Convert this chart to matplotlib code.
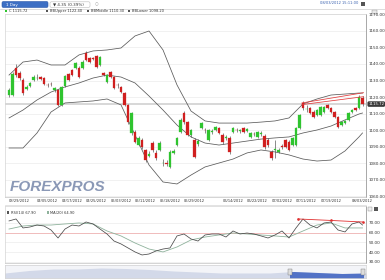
"""
Daily candles with Bollinger bands, RSI panel and range navigator.
"""

import numpy as np
import matplotlib
matplotlib.use('Agg')  # no GUI
import matplotlib.pyplot as plt
from matplotlib.patches import Rectangle, FancyBboxPatch

W, H = 385, 280

# ── price bars (daily OHLC) ──
opens = [1121.2, 1121.2, 1137.6, 1134.5, 1130.3, 1124.8, 1126.7, 1130.3, 1131.5, 1132.1,
         1131.5, 1127.3, 1127.9, 1124.2, 1124.2, 1115.2, 1126.7, 1133.9, 1136.4, 1137.6,
         1137.6, 1137.6, 1146.7, 1143.6, 1143.6, 1144.8, 1139.4, 1134.5, 1129.1, 1135.2,
         1132.1, 1127.3, 1126.1, 1122.4, 1115.2, 1098.2, 1098.8, 1090.9, 1093.9, 1087.9,
         1084.2, 1092.1, 1086.1, 1087.9, 1080.0, 1080.0, 1077.6, 1086.1, 1090.9, 1098.8,
         1110.3, 1104.8, 1097.0, 1093.9, 1091.5, 1101.2, 1100.0, 1093.9, 1098.8, 1100.0,
         1101.2, 1097.0, 1095.2, 1095.2, 1098.8, 1100.0, 1099.4, 1101.2, 1099.4, 1095.8,
         1097.6, 1095.8, 1097.6, 1096.4, 1093.9, 1086.7, 1087.9, 1086.7, 1090.3, 1093.9,
         1092.7, 1090.9, 1090.9, 1101.2, 1116.4, 1112.7, 1113.3, 1110.9, 1109.1, 1109.1,
         1110.9, 1115.2, 1113.3, 1110.9, 1107.9, 1103.0, 1104.2, 1106.1, 1110.9, 1113.3,
         1113.3, 1119.4]
closes = [1124.2, 1133.9, 1133.3, 1131.5, 1122.4, 1126.1, 1128.5, 1132.1, 1131.8, 1130.9,
          1127.9, 1127.0, 1127.6, 1125.5, 1115.2, 1126.1, 1132.7, 1130.3, 1133.3, 1140.6,
          1132.1, 1141.2, 1142.4, 1141.2, 1143.3, 1138.2, 1144.2, 1133.3, 1133.3, 1132.1,
          1125.5, 1127.0, 1123.0, 1115.2, 1104.8, 1110.3, 1092.7, 1095.2, 1089.7, 1081.8,
          1085.5, 1087.9, 1083.0, 1092.1, 1080.3, 1079.7, 1086.7, 1087.3, 1095.2, 1106.1,
          1104.8, 1097.0, 1100.0, 1083.6, 1093.3, 1104.2, 1099.7, 1100.0, 1099.1, 1101.8,
          1098.2, 1092.7, 1095.5, 1086.7, 1101.2, 1099.7, 1099.7, 1098.8, 1100.6, 1098.2,
          1097.3, 1098.8, 1097.9, 1089.7, 1090.9, 1083.0, 1088.2, 1087.9, 1089.7, 1089.7,
          1087.9, 1095.2, 1101.2, 1109.1, 1113.3, 1113.0, 1110.3, 1107.9, 1112.1, 1113.9,
          1113.9, 1113.3, 1110.9, 1107.9, 1101.8, 1104.8, 1105.5, 1110.3, 1112.1, 1112.1,
          1120.07, 1115.72]
highs = [1125.5, 1135.2, 1140.0, 1135.8, 1131.5, 1127.3, 1129.1, 1133.3, 1133.9, 1132.7,
         1132.1, 1128.5, 1129.1, 1126.1, 1124.8, 1126.7, 1133.3, 1134.5, 1137.0, 1141.2,
         1138.8, 1142.4, 1147.9, 1144.2, 1144.2, 1145.5, 1144.8, 1135.2, 1133.9, 1135.8,
         1132.7, 1128.5, 1126.7, 1123.0, 1115.8, 1110.9, 1100.0, 1096.4, 1095.2, 1088.5,
         1087.3, 1093.3, 1087.9, 1093.3, 1082.4, 1081.8, 1087.9, 1088.5, 1095.8, 1107.3,
         1111.5, 1105.5, 1100.6, 1095.2, 1094.5, 1104.8, 1101.2, 1100.6, 1100.6, 1102.4,
         1101.8, 1098.2, 1097.0, 1096.4, 1101.8, 1101.2, 1100.6, 1101.8, 1101.2, 1098.8,
         1098.8, 1099.4, 1099.4, 1097.6, 1095.2, 1087.9, 1093.9, 1089.1, 1091.5, 1094.5,
         1093.9, 1095.8, 1101.8, 1109.7, 1117.6, 1115.2, 1113.9, 1112.1, 1112.7, 1114.5,
         1114.5, 1115.8, 1113.9, 1111.5, 1108.5, 1105.5, 1106.1, 1110.9, 1112.7, 1113.9,
         1121.0, 1120.6]
lows = [1120.0, 1120.6, 1132.1, 1130.3, 1121.2, 1124.2, 1126.1, 1129.7, 1130.3, 1130.3,
        1127.3, 1126.1, 1126.7, 1123.0, 1114.5, 1114.5, 1126.1, 1129.7, 1132.7, 1137.0,
        1131.5, 1137.0, 1141.8, 1140.6, 1142.4, 1137.6, 1138.8, 1132.7, 1128.5, 1131.5,
        1124.8, 1125.5, 1122.4, 1114.5, 1103.6, 1097.0, 1092.1, 1090.3, 1088.5, 1080.6,
        1083.6, 1086.7, 1081.8, 1087.3, 1078.2, 1078.2, 1077.0, 1085.5, 1090.3, 1098.2,
        1103.6, 1096.4, 1095.8, 1083.0, 1090.3, 1100.6, 1098.2, 1093.3, 1097.6, 1099.4,
        1097.6, 1091.5, 1093.9, 1085.5, 1098.2, 1098.8, 1098.2, 1098.2, 1098.8, 1095.2,
        1096.4, 1095.2, 1096.4, 1088.5, 1089.7, 1081.8, 1083.0, 1086.1, 1088.5, 1089.1,
        1087.3, 1090.3, 1090.3, 1100.6, 1112.1, 1110.9, 1109.7, 1107.3, 1108.5, 1108.5,
        1110.3, 1112.7, 1110.3, 1107.3, 1101.2, 1102.4, 1103.6, 1105.5, 1110.3, 1111.5,
        1112.7, 1114.5]

# ── Bollinger bands, read every 4th bar ──
band_idx = [0, 4, 8, 12, 16, 20, 24, 28, 32, 36, 40, 44, 48, 52, 56, 60, 64, 68, 72,
            76, 80, 84, 88, 92, 96, 100, 101]
bb_upper = [1133.3, 1141.2, 1142.4, 1139.4, 1139.4, 1145.5, 1147.9, 1148.5, 1149.7, 1157.0,
            1160.0, 1148.5, 1127.3, 1111.5, 1105.5, 1104.2, 1104.2, 1104.2, 1104.8, 1105.5,
            1107.3, 1115.8, 1118.8, 1121.2, 1121.8, 1122.4, 1122.4]
bb_middle = [1107.3, 1112.1, 1118.2, 1123.0, 1126.1, 1128.5, 1131.5, 1133.3, 1132.1, 1128.5,
             1120.6, 1112.1, 1103.0, 1095.8, 1092.1, 1090.9, 1092.1, 1093.3, 1094.5, 1095.2,
             1095.8, 1098.2, 1100.0, 1102.4, 1106.1, 1109.7, 1110.3]
bb_lower = [1089.1, 1089.1, 1098.2, 1110.9, 1116.4, 1117.0, 1117.6, 1118.8, 1115.2, 1097.0,
            1078.8, 1068.5, 1067.3, 1072.7, 1077.6, 1080.0, 1082.4, 1086.1, 1087.9, 1086.7,
            1084.9, 1082.4, 1081.2, 1081.8, 1087.3, 1095.8, 1098.2]

# red resistance lines drawn on the last bars
trend_idx = [83.7, 101.3]
trend_a = [1116.4, 1122.6]
trend_b = [1115.4, 1120.2]

# ── RSI and its moving average ──
rsi_idx = list(range(0, 101, 2)) + [101]
rsi = [72.1, 74.1, 64.9, 65.9, 67.9, 66.9, 62.8, 54.6, 63.8, 67.9,
       66.9, 71.0, 69.0, 63.8, 58.7, 51.5, 48.5, 44.4, 40.3, 37.2,
       38.2, 41.3, 43.3, 44.4, 56.7, 58.7, 53.6, 51.5, 57.7, 58.7,
       58.7, 55.6, 61.8, 58.7, 59.7, 58.7, 56.7, 54.6, 57.7, 61.8,
       54.6, 64.9, 74.1, 67.9, 64.9, 70.0, 71.0, 62.8, 60.8, 69.0,
       71.0, 67.9]
rsi_ma = [63.8, 66.9, 67.9, 67.9, 69.0, 70.0, 69.0, 61.8, 56.7, 49.5,
          43.3, 40.3, 45.4, 52.6, 55.6, 57.7, 59.7, 58.7, 57.7, 56.7,
          55.6, 61.8, 67.9, 70.0, 64.9, 64.9, 64.9]
rsi_trend_idx = [82.6, 92.0, 101.0]
rsi_trend = [74.1, 72.6, 71.0]

# ── navigator (long history, relative level) ──
nav_vals = [5.0, 7.5, 9.0, 9.0, 10.0, 9.5, 8.5, 7.0, 6.0, 5.0, 5.0, 5.0, 6.5, 5.5, 4.5, 5.0]

date_idx = [3, 11, 18, 25, 32, 39, 46, 53, 64, 71, 78, 85, 92, 101]
date_labels = ["03/29/2012", "04/05/2012", "04/17/2012", "04/25/2012", "05/03/2012",
               "05/11/2012", "05/18/2012", "05/29/2012", "06/14/2012", "06/22/2012",
               "07/02/2012", "07/11/2012", "07/19/2012", "08/03/2012"]
price_ticks = list(range(1060, 1171, 10))
rsi_ticks = [30, 40, 50, 60, 70]

GREEN = "#2fc42f"
RED = "#d01f1f"
TXT = "#333333"


def px_rect(x0, y0, x1, y1):
    """Pixel box (top-left origin) -> figure fraction rect."""
    return [x0 / W, 1 - y1 / H, (x1 - x0) / W, (y1 - y0) / H]


def style_panel(ax):
    for side in ("left", "top"):
        ax.spines[side].set_color("#d5d5d5")
        ax.spines[side].set_linewidth(0.5)
    ax.spines["right"].set_color("#9a9a9a")
    ax.spines["right"].set_linewidth(0.6)
    ax.spines["bottom"].set_color("#c4c4c4")
    ax.spines["bottom"].set_linewidth(0.5)
    ax.yaxis.tick_right()
    ax.tick_params(axis="y", length=0, labelsize=3, labelcolor=TXT, pad=2)


fig = plt.figure(figsize=(W / 100, H / 100), dpi=100)

# background layer for header widgets (pixel coordinates)
bg = fig.add_axes([0, 0, 1, 1])
bg.set_xlim(0, W)
bg.set_ylim(H, 0)
bg.axis("off")
bg.add_patch(FancyBboxPatch((2, 1.5), 46, 6, boxstyle="round,pad=0,rounding_size=1.5",
                            fc="#3d6fc4", ec="#2a58a8", lw=0.4))
bg.text(6, 4.6, "1 Day", color="white", fontsize=3, va="center")
bg.add_patch(FancyBboxPatch((50, 1.8), 40, 5.6, boxstyle="round,pad=0,rounding_size=1.5",
                            fc="white", ec="#bbbbbb", lw=0.4))
bg.text(53, 4.6, "\u25bc 4.35 (0.39%)", color=TXT, fontsize=3, va="center")
bg.text(95, 4.6, "\u25cb", color="#999999", fontsize=3, va="center")
bg.text(358, 3.5, "08/03/2012 15:11:00", color="#3a62b0", fontsize=2.6,
        va="center", ha="right")
bg.add_patch(Rectangle((360.5, 1.5), 4, 4, fc="#555555", ec="none"))
bg.plot([0, W], [8.5, 8.5], color="#cfcfcf", lw=0.5)
bg.add_patch(Rectangle((372, 9.5), 5, 4, fc="#e8e8e8", ec="#888888", lw=0.3))

# legend row of the main chart
items = [(GREEN, f"C {closes[-1]:.2f}"), ("#555555", f"BBUpper {bb_upper[-1]:.2f}"),
         ("#555555", f"BBMiddle {bb_middle[-1]:.2f}"), ("#555555", f"BBLower {bb_lower[-1]:.2f}")]
for k, (col, label) in enumerate(items):
    x0 = 5 + k * 41
    bg.add_patch(Rectangle((x0, 9.8), 2.4, 2.4, fc=col, ec="none"))
    bg.text(x0 + 4, 11.1, label, color=TXT, fontsize=2.6, va="center")

# ── main price chart ──
ax = fig.add_axes(px_rect(5, 14, 366, 197))
x = np.arange(len(closes))
o = np.array(opens)
c = np.array(closes)
colors = np.where(c >= o, GREEN, RED)
ax.vlines(x, lows, highs, color="#4a4a4a", lw=0.45, zorder=3)
ax.bar(x, np.maximum(np.abs(c - o), 0.3), bottom=np.minimum(o, c), width=0.75,
       color=colors, edgecolor=colors, linewidth=0.2, zorder=4)

for band in (bb_upper, bb_middle, bb_lower):
    ax.plot(band_idx, band, color="#5a5a5a", lw=0.55, zorder=2)

ax.plot(trend_idx, trend_a, color="#e23a3a", lw=0.55, zorder=5)
ax.plot(trend_idx, trend_b, color="#e23a3a", lw=0.55, zorder=5)

ax.axhline(closes[-1], color="#cdcdcd", lw=1.1, zorder=1)
ax.annotate(f"{closes[-1]:.2f}", xy=(1.0, closes[-1]), xycoords=("axes fraction", "data"),
            xytext=(1.6, 0), textcoords="offset points", va="center", ha="left",
            fontsize=2.8, color="white",
            bbox=dict(boxstyle="round,pad=0.2,rounding_size=0.4", fc="#3a3a3a", ec="none"))

ax.text(0.012, 0.015, "FOREXPROS", transform=ax.transAxes, fontsize=11,
        fontweight="bold", style="italic", color="#8a98b6", family="Liberation Sans",
        va="bottom", ha="left", zorder=0)

ax.set_xlim(-1.15, 102)
ax.set_ylim(1059.4, 1170.3)
ax.set_yticks(price_ticks)
ax.set_yticklabels([f"{v:.2f}" for v in price_ticks])
ax.set_xticks(date_idx)
ax.set_xticklabels(date_labels)
ax.tick_params(axis="x", length=0, labelsize=2.6, labelcolor=TXT, pad=1.8)
ax.grid(axis="y", color="#ececec", lw=0.5)
ax.set_axisbelow(True)
style_panel(ax)

bg.plot([5, 366], [204.5, 204.5], color="#d8d8d8", lw=0.5)

# ── RSI panel ──
ax2 = fig.add_axes(px_rect(5, 206, 366, 263))
ax2.axhline(60, color="#f0b4b4", lw=0.6, zorder=1)
ax2.plot(band_idx, rsi_ma, color="#8fb29c", lw=0.6, zorder=2)
ax2.plot(rsi_idx, rsi, color="#4a4a4a", lw=0.55, zorder=3)
ax2.plot(rsi_trend_idx, rsi_trend, color="#e03030", lw=0.6, zorder=4,
         marker="o", markersize=0.9)
ax2.set_xlim(-1.15, 102)
ax2.set_ylim(28.97, 87.4)
ax2.set_yticks(rsi_ticks)
ax2.set_yticklabels([f"{v:.2f}" for v in rsi_ticks])
ax2.set_xticks([])
ax2.grid(axis="y", color="#ececec", lw=0.5)
ax2.set_axisbelow(True)
style_panel(ax2)
ax2.add_patch(Rectangle((0.005, 0.86), 0.006, 0.05, transform=ax2.transAxes,
                        fc="#555555", ec="none"))
ax2.text(0.016, 0.885, f"RSI(14) {rsi[-1]:.2f}", transform=ax2.transAxes,
         fontsize=2.6, color=TXT, va="center")
ax2.add_patch(Rectangle((0.115, 0.86), 0.006, 0.05, transform=ax2.transAxes,
                        fc="#8fb29c", ec="none"))
ax2.text(0.126, 0.885, f"MA(20) {rsi_ma[-1]:.2f}", transform=ax2.transAxes,
         fontsize=2.6, color=TXT, va="center")
bg.add_patch(Rectangle((368, 207), 4, 4, fc="#eeeeee", ec="#888888", lw=0.3))
bg.add_patch(Rectangle((374, 207), 4, 4, fc="#555555", ec="none"))

# ── navigator ──
ax3 = fig.add_axes(px_rect(5, 265, 366, 278))
nx = np.arange(len(nav_vals))
ax3.set_facecolor("#f3f4f8")
ax3.fill_between(nx, nav_vals, 0, color="#d3d9e9", lw=0)
sel = ax3.fill_between(nx, nav_vals, 0, color="#5272c6", lw=0)
clip = Rectangle((11.84, 0), 3.05, 14, transform=ax3.transData)
sel.set_clip_path(clip)
for edge in (11.84, 14.89):
    ax3.add_patch(Rectangle((edge - 0.08, 3), 0.16, 6, fc="#dddddd", ec="#777777", lw=0.3))
ax3.set_xlim(0, len(nav_vals) - 1)
ax3.set_ylim(0, 13)
ax3.set_xticks([])
ax3.set_yticks([])
for s in ax3.spines.values():
    s.set_color("#c8c8c8")
    s.set_linewidth(0.4)

plt.savefig("out.png", dpi=100)
